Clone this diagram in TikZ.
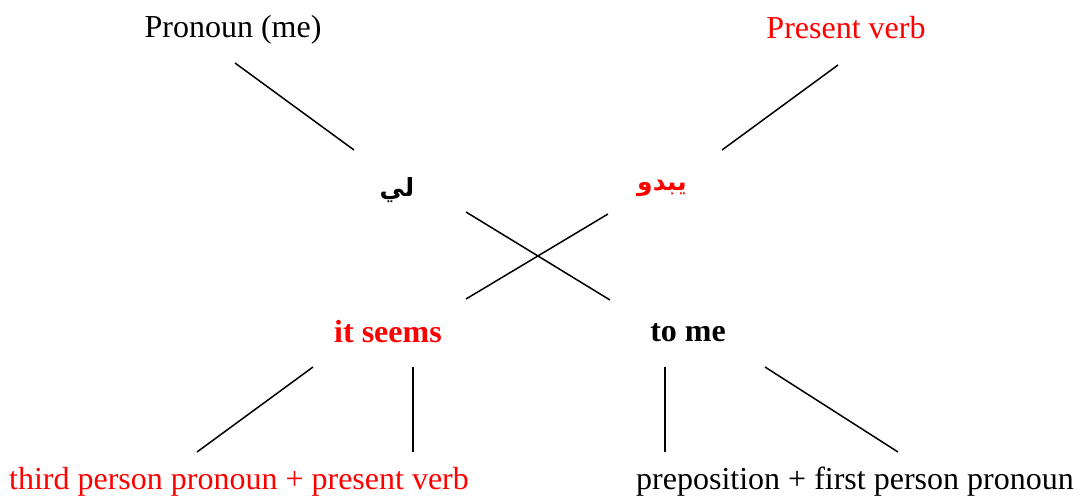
\documentclass[tikz,border=0pt]{standalone}
\usepackage{fontspec}
\setmainfont{Liberation Serif}
\newfontfamily\arabicfont[Script=Arabic]{DejaVu Sans}
\TeXXeTstate=1
\begin{document}
\begin{tikzpicture}[x=1pt,y=-1pt,
  lbl/.style={inner sep=0pt,font=\fontsize{32}{36}\selectfont},
  blbl/.style={lbl,font=\fontsize{32}{36}\selectfont\bfseries},
  albl/.style={inner sep=0pt,font=\fontsize{25}{30}\selectfont\arabicfont\bfseries},
  ln/.style={line width=1.5pt}]
\useasboundingbox (0,0) rectangle (1078,498);
\node[lbl] (pron) at (233,30) {Pronoun (me)};
\node[lbl,text=red] (pres) at (846,28) {Present verb};
\node[albl] (li) at (397,190) {\beginR لي\endR};
\node[albl,text=red] (yabdu) at (662,188) {\beginR يبدو\endR};
\node[blbl,text=red] (seems) at (388,332) {it seems};
\node[blbl] (tome) at (688,333) {to me};
\node[lbl,text=red] (third) at (239,482) {third person pronoun + present verb};
\node[lbl] (prep) at (855,482) {preposition + first person pronoun};
\coordinate (a1) at (235,63); \coordinate (a2) at (354,150);
\coordinate (b1) at (838,65); \coordinate (b2) at (722,150);
\coordinate (c1) at (466,212); \coordinate (c2) at (610,300);
\coordinate (d1) at (608,214); \coordinate (d2) at (466,299);
\coordinate (e1) at (313,367); \coordinate (e2) at (197,452);
\coordinate (f1) at (413,367); \coordinate (f2) at (413,452);
\coordinate (g1) at (665,367); \coordinate (g2) at (665,452);
\coordinate (h1) at (765,367); \coordinate (h2) at (898,452);
\draw[ln] (a1) -- (a2);
\draw[ln] (b1) -- (b2);
\draw[ln] (c1) -- (c2);
\draw[ln] (d1) -- (d2);
\draw[ln] (e1) -- (e2);
\draw[ln] (f1) -- (f2);
\draw[ln] (g1) -- (g2);
\draw[ln] (h1) -- (h2);
\end{tikzpicture}
\end{document}
